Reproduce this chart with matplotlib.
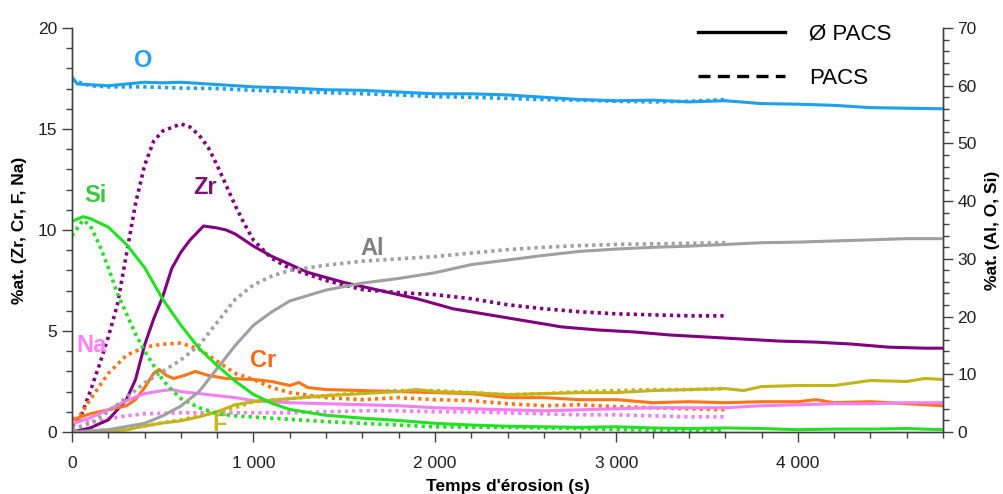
import matplotlib
matplotlib.use("Agg")
import matplotlib.pyplot as plt
from matplotlib.lines import Line2D
from matplotlib.ticker import FuncFormatter, MultipleLocator
import numpy as np

plt.rcParams['font.family'] = ['Liberation Sans', 'DejaVu Sans']

# Colours of the elements.
colors = {
	"O": "#1ea0ee", "Si": "#22e022", "Zr": "#800080", "Al": "#a0a0a0",
	"Na": "#f47ef4", "Cr": "#ff7414", "F": "#c4b41c",
}
label_colors = {
	"O": "#2a9df4", "Si": "#3cc83c", "Zr": "#7a107a", "Al": "#808080",
	"Na": "#ff80ff", "Cr": "#ff6a10", "F": "#c8b820",
}

# --- Left axis (Zr, Cr, F, Na) ---
# Ø PACS (solid)
zr_x = [0, 100, 200, 300, 350, 400, 450, 500, 550, 600, 650, 725, 800, 850, 900, 950, 1000, 1100, 1200, 1300,
		1500, 1700, 1900, 2100, 2300, 2500, 2700, 2900, 3100, 3300, 3500, 3700, 3900, 4100, 4300, 4500, 4700, 4800]
zr_y = [0, 0.2, 0.6, 1.6, 2.6, 4.3, 5.6, 6.7, 8.1, 8.9, 9.5, 10.2, 10.1, 10.0, 9.8, 9.5, 9.2, 8.7, 8.3, 7.9,
		7.4, 7.0, 6.6, 6.1, 5.8, 5.5, 5.2, 5.05, 4.95, 4.8, 4.7, 4.6, 4.5, 4.45, 4.35, 4.2, 4.15, 4.15]
cr_x = [0, 100, 200, 300, 350, 400, 450, 480, 520, 560, 620, 680, 750, 850, 1000, 1100, 1200, 1250, 1300, 1400,
		1600, 1800, 2000, 2200, 2400, 2600, 2800, 3000, 3200, 3400, 3600, 3800, 4000, 4100, 4200, 4400, 4600, 4800]
cr_y = [0.6, 0.9, 1.1, 1.3, 1.6, 2.2, 2.9, 3.1, 2.8, 2.65, 2.8, 3.0, 2.8, 2.65, 2.6, 2.5, 2.3, 2.45, 2.2, 2.1,
		2.05, 2.0, 1.95, 1.9, 1.7, 1.7, 1.6, 1.6, 1.45, 1.5, 1.45, 1.5, 1.5, 1.6, 1.45, 1.5, 1.4, 1.3]
na_x = [0, 100, 200, 300, 400, 500, 550, 600, 700, 800, 900, 1000, 1200, 1400, 1600, 1800, 2000, 2200, 2400,
		2600, 2800, 3000, 3200, 3400, 3600, 3800, 4000, 4200, 4400, 4600, 4800]
na_y = [0.4, 0.7, 1.1, 1.55, 1.9, 2.05, 2.1, 2.0, 1.9, 1.8, 1.7, 1.55, 1.45, 1.4, 1.35, 1.3, 1.2, 1.15, 1.1,
		1.05, 1.1, 1.15, 1.2, 1.2, 1.2, 1.3, 1.35, 1.4, 1.4, 1.45, 1.45]
f_x = [0, 200, 300, 400, 500, 600, 700, 800, 900, 1000, 1100, 1200, 1400, 1600, 1800, 1900, 2000, 2200, 2400,
	   2600, 2800, 3000, 3200, 3400, 3600, 3700, 3800, 4000, 4200, 4400, 4600, 4700, 4800]
f_y = [0, 0.05, 0.1, 0.3, 0.45, 0.55, 0.75, 1.0, 1.35, 1.5, 1.58, 1.65, 1.8, 1.9, 2.0, 2.1, 2.0, 1.95, 1.85,
	   1.9, 1.95, 1.95, 2.05, 2.1, 2.15, 2.05, 2.25, 2.3, 2.3, 2.55, 2.5, 2.65, 2.6]

# PACS (dotted)
zr_p_x = [0, 50, 100, 150, 200, 250, 300, 350, 400, 450, 500, 600, 650, 700, 750, 800, 850, 900, 950, 1000,
		  1100, 1200, 1400, 1600, 1800, 2000, 2200, 2400, 2600, 2800, 3000, 3200, 3400, 3600]
zr_p_y = [0.3, 0.8, 2.0, 3.3, 4.7, 6.3, 8.8, 11.3, 13.2, 14.4, 14.9, 15.25, 15.1, 14.7, 14.1, 13.2, 12.2, 11.2,
		  10.3, 9.5, 8.6, 8.1, 7.5, 7.05, 6.9, 6.8, 6.6, 6.3, 6.1, 5.95, 5.85, 5.8, 5.75, 5.75]
cr_p_x = [0, 100, 200, 300, 400, 500, 600, 700, 800, 900, 1000, 1100, 1200, 1400, 1600, 1800, 2000, 2200, 2400,
		  2600, 2800, 3000, 3200, 3400, 3600]
cr_p_y = [0.2, 1.6, 2.9, 3.8, 4.2, 4.35, 4.4, 4.1, 3.5, 2.9, 2.6, 2.2, 1.95, 1.7, 1.6, 1.7, 1.6, 1.55, 1.4,
		  1.3, 1.35, 1.25, 1.2, 1.15, 1.1]
na_p_x = [0, 100, 200, 300, 400, 600, 800, 1000, 1200, 1400, 1600, 1800, 2000, 2200, 2400, 2600, 2800, 3000,
		  3200, 3400, 3600]
na_p_y = [0.7, 0.45, 0.65, 0.8, 0.9, 0.95, 0.95, 0.95, 0.95, 1.0, 1.05, 1.05, 1.0, 1.0, 0.95, 0.9, 0.85, 0.85,
		  0.8, 0.75, 0.75]
f_p_x = [0, 200, 400, 600, 800, 900, 1000, 1200, 1400, 1600, 1800, 2000, 2200, 2400, 2600, 2800, 3000, 3200,
		 3400, 3600]
f_p_y = [0, 0.1, 0.3, 0.6, 1.0, 1.2, 1.5, 1.65, 1.8, 1.95, 2.05, 2.05, 1.95, 1.85, 1.9, 2.0, 2.05, 2.1, 2.1, 2.15]

# --- Right axis (Al, O, Si) ---
# Ø PACS (solid)
al_x = [0, 200, 400, 500, 600, 700, 800, 900, 1000, 1100, 1200, 1400, 1600, 1800, 2000, 2200, 2400, 2600,
		2800, 3000, 3200, 3400, 3600, 3800, 4000, 4200, 4400, 4600, 4800]
al_y = [0, 0.4, 1.5, 2.8, 4.5, 7, 11, 15, 18.5, 20.8, 22.7, 24.6, 25.8, 26.6, 27.6, 29, 29.8, 30.6,
		31.3, 31.7, 32.0, 32.2, 32.5, 32.8, 32.9, 33.1, 33.3, 33.5, 33.5]
o_x = [0, 30, 200, 400, 500, 600, 800, 1000, 1200, 1400, 1600, 1800, 2000, 2200, 2400, 2600, 2800, 3000,
	   3200, 3400, 3600, 3800, 4000, 4200, 4400, 4600, 4800]
o_y = [61.5, 60.3, 60.0, 60.6, 60.5, 60.6, 60.2, 59.8, 59.6, 59.3, 59.2, 58.9, 58.6, 58.6, 58.4, 58.0, 57.6,
	   57.4, 57.5, 57.2, 57.4, 56.9, 56.8, 56.6, 56.2, 56.1, 56.0]
si_x = [0, 60, 100, 200, 300, 400, 500, 600, 700, 800, 900, 1000, 1100, 1200, 1400, 1600, 1800, 2000, 2200,
		2400, 2600, 2800, 3000, 3200, 3400, 3600, 3800, 4000, 4200, 4400, 4600, 4800]
si_y = [36.5, 37.3, 37.0, 35.5, 32.5, 28.5, 23, 18.5, 14.5, 11.5, 8.8, 6.5, 5.0, 3.9, 2.9, 2.4, 2.0, 1.5, 1.2,
		1.0, 0.9, 0.8, 0.9, 0.7, 0.6, 0.7, 0.6, 0.4, 0.5, 0.5, 0.6, 0.4]

# PACS (dotted)
al_p_x = [0, 100, 200, 300, 400, 500, 600, 700, 800, 900, 1000, 1100, 1200, 1400, 1600, 1800, 2000, 2200,
		  2400, 2600, 2800, 3000, 3200, 3400, 3600]
al_p_y = [0.5, 1.5, 3.5, 6, 8.5, 10.5, 12.5, 15, 19, 23, 25.5, 27, 28, 28.9, 29.6, 30.0, 30.4, 31, 31.6, 32,
		  32.3, 32.5, 32.6, 32.7, 32.8]
o_p_x = [0, 100, 200, 400, 600, 800, 1000, 1200, 1400, 1600, 1800, 2000, 2200, 2400, 2600, 2800, 3000, 3200,
		 3400, 3600]
o_p_y = [61.0, 60.0, 59.8, 59.8, 59.6, 59.5, 59.2, 59.0, 58.8, 58.6, 58.4, 58.1, 58.0, 57.8, 57.6, 57.5, 57.3,
		 57.2, 57.3, 57.6]
si_p_x = [0, 60, 100, 150, 200, 250, 300, 350, 400, 450, 500, 550, 600, 700, 800, 900, 1000, 1200, 1400, 1600,
		  1800, 2000, 2400, 2800, 3200, 3600]
si_p_y = [34, 36.7, 35.8, 32.5, 28.5, 24, 20.5, 17, 14, 11.5, 9, 7.3, 5.8, 4.2, 3.2, 2.8, 2.6, 2.2, 1.8, 1.5,
		  1.2, 0.9, 0.8, 0.6, 0.3, 0.2]

# Element labels: (name, x, value on left axis)
labels = [("O", 392, 18.4), ("Si", 127, 11.7), ("Zr", 734, 12.1), ("Al", 1655, 9.1),
		  ("Na", 110, 4.26), ("Cr", 1054, 3.52), ("F", 811, 0.35)]

if __name__ == "__main__":

	fig = plt.figure(figsize=(10.04, 4.94), dpi=100)
	ax = fig.add_axes([72/1004, 1 - 432/494, 871/1004, 404/494])
	ax2 = ax.twinx()

	lw = 2.2
	dot = dict(linestyle=(0, (0.9, 1.1)), linewidth=2.6, dash_capstyle="butt")

	# Dotted (PACS) first, then the solid ones above.
	ax.plot(zr_p_x, zr_p_y, color=colors["Zr"], **dot)
	ax.plot(cr_p_x, cr_p_y, color=colors["Cr"], **dot)
	ax.plot(na_p_x, na_p_y, color=colors["Na"], **dot)
	ax.plot(f_p_x, f_p_y, color=colors["F"], **dot)
	ax2.plot(al_p_x, al_p_y, color=colors["Al"], **dot)
	ax2.plot(o_p_x, o_p_y, color=colors["O"], **dot)
	ax2.plot(si_p_x, si_p_y, color=colors["Si"], **dot)

	ax.plot(zr_x, zr_y, color=colors["Zr"], lw=lw)
	ax.plot(cr_x, cr_y, color=colors["Cr"], lw=lw)
	ax.plot(na_x, na_y, color=colors["Na"], lw=lw)
	ax.plot(f_x, f_y, color=colors["F"], lw=lw)
	ax2.plot(al_x, al_y, color=colors["Al"], lw=lw)
	ax2.plot(o_x, o_y, color=colors["O"], lw=lw)
	ax2.plot(si_x, si_y, color=colors["Si"], lw=lw)

	# Axes limits and ticks.
	ax.set_xlim(0, 4800)
	ax.set_ylim(0, 20)
	ax2.set_ylim(0, 70)
	ax.xaxis.set_major_locator(MultipleLocator(1000))
	ax.xaxis.set_minor_locator(MultipleLocator(200))
	ax.yaxis.set_major_locator(MultipleLocator(5))
	ax.yaxis.set_minor_locator(MultipleLocator(1))
	ax2.yaxis.set_major_locator(MultipleLocator(10))
	ax2.yaxis.set_minor_locator(MultipleLocator(2))
	ax.xaxis.set_major_formatter(FuncFormatter(lambda v, p: "{:,.0f}".format(v).replace(",", " ")))

	spine_col = "#404040"
	for a in (ax, ax2):
		a.spines["top"].set_visible(False)
		for s in a.spines.values():
			s.set_color(spine_col)
			s.set_linewidth(1.0)
		a.tick_params(which="major", length=7, width=1.0, color=spine_col, labelsize=12.5, labelcolor="#202020")
		a.tick_params(which="minor", length=4, width=1.0, color=spine_col)
	ax.tick_params(axis="x", pad=10)

	ax.set_xlabel("Temps d'érosion (s)", fontsize=12.5, fontweight="bold", labelpad=6)
	ax.set_ylabel("%at. (Zr, Cr, F, Na)", fontsize=12.5, fontweight="bold", labelpad=8)
	ax2.set_ylabel("%at. (Al, O, Si)", fontsize=12.5, fontweight="bold", labelpad=6)

	for name, x, y in labels:
		ax.text(x, y, name, color=label_colors[name], fontsize=17, fontweight="bold", ha="center", va="center")

	handles = [Line2D([], [], color="black", lw=2.4, linestyle="-"),
			   Line2D([], [], color="black", lw=2.4, linestyle=(0, (3.6, 2.2)))]
	ax2.legend(handles, ["Ø PACS", "PACS"], loc="upper left", bbox_to_anchor=(0.701, 1.05), frameon=False,
			   fontsize=16, handlelength=3.9, handletextpad=1.1, labelspacing=1.05, borderpad=0.2)

	plt.savefig("out.png", dpi=100)
